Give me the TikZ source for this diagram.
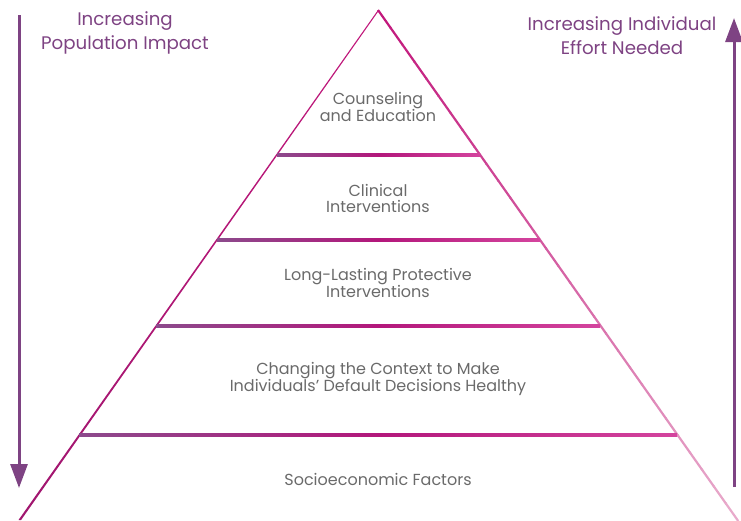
\documentclass[tikz,border=0pt]{standalone}
\usepackage{fontspec}
\setmainfont{Poppins}
\usetikzlibrary{arrows.meta, calc}

\definecolor{tiptop}{HTML}{C2187C}
\definecolor{leftbase}{HTML}{A0166F}
\definecolor{rightbase}{HTML}{E8AACB}
\definecolor{barleft}{HTML}{8C4A8C}
\definecolor{barmid}{HTML}{B3177B}
\definecolor{barright}{HTML}{D4449E}
\definecolor{sidepurple}{HTML}{7E4383}
\definecolor{labelgrey}{HTML}{6A6A6A}

\begin{document}
\begin{tikzpicture}[x=1pt, y=-1pt, >={Triangle[length=24pt, width=17pt]},
    level/.style={font={\fontsize{16}{16}\selectfont}, text=labelgrey, align=center, inner sep=0pt},
    side/.style={font={\fontsize{18.2}{24}\selectfont}, text=sidepurple, align=center, inner sep=0pt}]
    \useasboundingbox (0,0) rectangle (741,520);

    \coordinate (apex) at (378,10);
    \coordinate (baseL) at (18.5,520);
    \coordinate (baseR) at (737.5,520);

    % pyramid sides
    \shade[top color=tiptop, bottom color=leftbase] (apex) -- (baseL) -- ++(2.6,0) -- ($(apex)+(1.3,0)$) -- cycle;
    \foreach \i in {0,...,29} {
        \pgfmathsetmacro{\p}{100-\i*100/29}
        \draw[line width=2.2pt, color=tiptop!\p!rightbase] ($(apex)!\i/30!(baseR)$) -- ($(apex)!\i/30+1/30+0.002!(baseR)$);
    }

    % levels
    \foreach \y/\xl/\xr in {155/277/480, 240/217/540, 326/156/600, 435/79/677}
        \shade[left color=barleft, right color=barright, middle color=barmid] (\xl,\y-1.2) rectangle (\xr,\y+1.2);

    \node[level] (counsel) at (378,107) {Counseling\\and Education};
    \node[level] (clinical) at (378,198) {Clinical\\Interventions};
    \node[level] (protect) at (378,283) {Long-Lasting Protective\\Interventions};
    \node[level] (context) at (378,379) {Changing the Context to Make\\Individuals’ Default Decisions Healthy};
    \node[level] (socio) at (378,479) {Socioeconomic Factors};

    % side arrows
    \node[side] (impact) at (125,33) {Increasing\\Population Impact};
    \node[side] (effort) at (622,36) {Increasing Individual\\Effort Needed};
    \coordinate (impactTop) at (19,15);
    \coordinate (impactEnd) at (19,488);
    \coordinate (effortBot) at (734,487);
    \coordinate (effortEnd) at (734,18);
    \draw[->, line width=3pt, sidepurple] (impactTop) -- (impactEnd);
    \draw[->, line width=3pt, sidepurple] (effortBot) -- (effortEnd);
\end{tikzpicture}
\end{document}
